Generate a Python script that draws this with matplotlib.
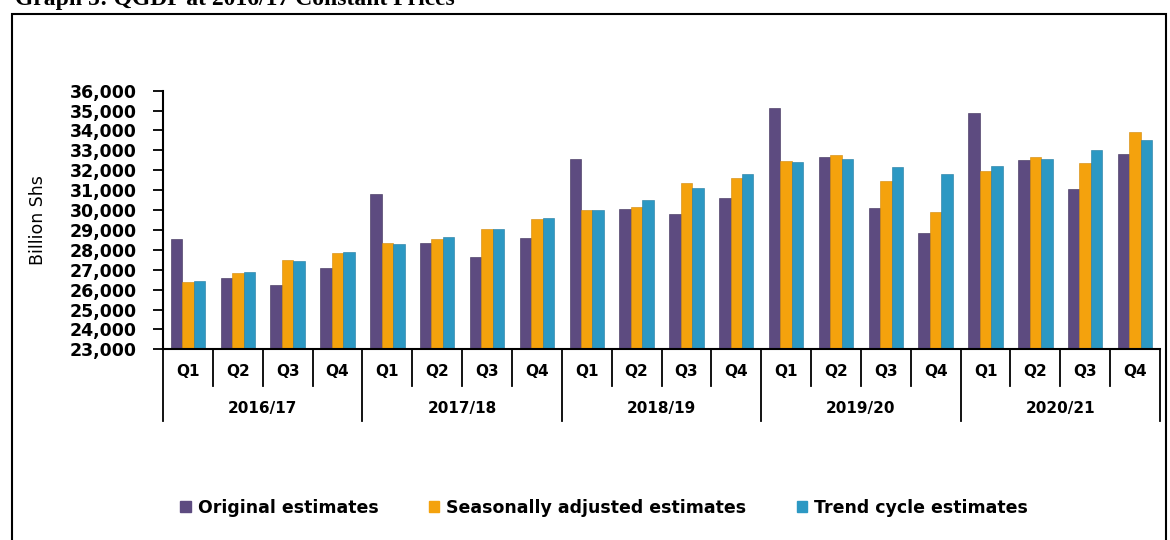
import numpy as np
import matplotlib
matplotlib.use("Agg")
import matplotlib.pyplot as plt
from matplotlib.patches import Patch, Rectangle

# ── data ─────────────────────────────────────────────────────────────────────
years    = ["2016/17", "2017/18", "2018/19", "2019/20", "2020/21"]
quarters = ["Q1", "Q2", "Q3", "Q4"]

original = [28560, 26570, 26220, 27070,
            30790, 28350, 27660, 28610,
            32550, 30040, 29820, 30610,
            35150, 32670, 30100, 28830,
            34880, 32520, 31060, 32830]
seasonal = [26390, 26850, 27510, 27860,
            28350, 28550, 29070, 29570,
            30000, 30170, 31340, 31630,
            32480, 32770, 31460, 29920,
            31960, 32650, 32380, 33940]
trend    = [26450, 26900, 27420, 27910,
            28300, 28650, 29070, 29590,
            29990, 30490, 31130, 31800,
            32400, 32580, 32180, 31830,
            32210, 32580, 33020, 33520]

series_names  = ["Original estimates", "Seasonally adjusted estimates", "Trend cycle estimates"]
series_colors = ["#5d4b80", "#f4a20d", "#2c98c3"]
edge_colors   = ["#3a2d55", "#d08808", "#1f7aa0"]

yticks = np.arange(23000, 36001, 1000)

# ── figure / axes ─────────────────────────────────────────────────────────────
W, H = 1170, 540
fig = plt.figure(figsize=(W / 100, H / 100), dpi=100)
ax = fig.add_axes([163 / W, 1 - 349.3 / H, (1160 - 163) / W, (349.3 - 90.7) / H])

n = len(original)
x = np.arange(n)
bw = 0.23
for k, (vals, col, ec) in enumerate(zip([original, seasonal, trend], series_colors, edge_colors)):
    ax.bar(x + (k - 1) * bw, np.array(vals) - 23000, bottom=23000, width=bw,
           color=col, edgecolor=ec, linewidth=0.4)

ax.set_xlim(-0.5, n - 0.5)
ax.set_ylim(23000, 36000)
ax.set_yticks(yticks)
ax.set_yticklabels([f"{v:,}" for v in yticks], fontsize=12.5, fontweight="bold")
ax.tick_params(axis="y", direction="out", length=7, width=1.3, pad=12)
ax.set_xticks([])
for s in ["top", "right"]:
    ax.spines[s].set_visible(False)
ax.spines["left"].set_linewidth(1.5)
ax.spines["bottom"].set_linewidth(1.5)

# ── two-level category axis ──────────────────────────────────────────────────
trans = ax.get_xaxis_transform()
px = 1 / (349.3 - 90.7)          # one pixel in axes-y units
short_end = -(386 - 349.3) * px
long_end  = -(421 - 349.3) * px
for i in range(n + 1):
    bottom = long_end if i % 4 == 0 else short_end
    ax.plot([i - 0.5, i - 0.5], [0, bottom], color="black", lw=1.3,
            transform=trans, clip_on=False)
for i in range(n):
    ax.text(i, -(372 - 349.3) * px, quarters[i % 4], transform=trans,
            ha="center", va="center", fontsize=11, fontweight="bold",
            family=["Liberation Sans Narrow", "DejaVu Sans"])
for j, yr in enumerate(years):
    ax.text(j * 4 + 1.5, -(408 - 349.3) * px, yr, transform=trans,
            ha="center", va="center", fontsize=11, fontweight="bold",
            family=["Liberation Sans Narrow", "DejaVu Sans"])

# ── labels, legend, frame ────────────────────────────────────────────────────
fig.text(38 / W, 1 - 220 / H, "Billion Shs", rotation=90, ha="center", va="center",
         fontsize=12.5)

handles = [Patch(facecolor=c, edgecolor=c) for c in series_colors]
fig.legend(handles, series_names, loc="center", bbox_to_anchor=(604 / W, 1 - 508 / H),
           ncol=3, frameon=False, prop={"size": 12.5, "weight": "bold"},
           handlelength=0.6, handleheight=0.6, handletextpad=0.4, columnspacing=2.9)

fig.patches.append(Rectangle((12 / W, -0.02), (1166 - 12) / W, 1.02 - 14 / H,
                             transform=fig.transFigure, fill=False,
                             edgecolor="black", linewidth=1.5))

# title is cropped at the top edge in the reference scan
fig.text(15 / W, 1 - 5 / H, "Graph 5: QGDP at 2016/17 Constant Prices",
         ha="left", va="baseline", fontsize=17, fontweight="bold",
         family="Liberation Serif")

fig.savefig("out.png", dpi=100)
